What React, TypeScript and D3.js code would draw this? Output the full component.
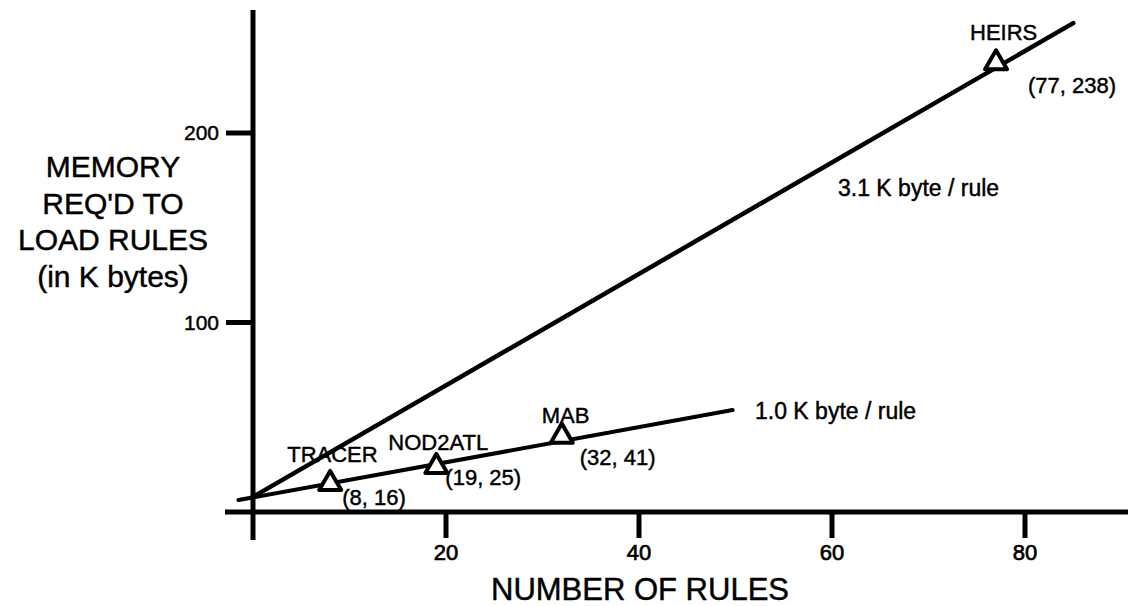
import React from "react";
import * as d3 from "d3";

// ---- data ----
const systems = ["TRACER", "NOD2ATL", "MAB", "HEIRS"];
const rules = [8, 19, 32, 77];
const memoryK = [16, 25, 41, 238];
const xTicks = [20, 40, 60, 80];
const yTicks = [100, 200];
const fitLabels = ["3.1 K byte / rule", "1.0 K byte / rule"];
// hand-drawn fit lines (rules, K bytes)
const fitHigh: [number, number][] = [[0, 8], [85, 258]];
const fitLow: [number, number][] = [[-1.5, 6.3], [49.7, 53.8]];
const yTitle = ["MEMORY", "REQ'D TO", "LOAD RULES", "(in K bytes)"];
const xTitle = "NUMBER OF RULES";

// ---- layout ----
const W = 1128;
const H = 606;
const FONT = "'Liberation Sans', Arial, Helvetica, sans-serif";
const nameOffsets = [[-43, -20], [-48, -15], [-20, -11], [-26, -21]];
const coordOffsets = [[12, 23], [9, 20], [18, 31], [32, 32]];
const TS = { fill: "#000", stroke: "#000", strokeWidth: 0.45 };

export default function App() {
  const x = d3.scaleLinear().domain([0, 80]).range([253, 1025]);
  const y = d3.scaleLinear().domain([0, 200]).range([512, 133]);
  const line = d3.line<[number, number]>().x((d) => x(d[0])).y((d) => y(d[1]));
  const tri = d3.symbol().type(d3.symbolTriangle).size(210)();

  const x0 = x(0);
  const y0 = y(0);

  return (
    <svg
      width={W}
      height={H}
      style={{ position: "absolute", left: 0, top: 0, background: "#fff" }}
      fontFamily={FONT}
    >
      <rect width={W} height={H} fill="#fff" />
      {/* axes */}
      <line x1={x0} x2={x0} y1={10} y2={540} stroke="#000" strokeWidth={5} />
      <line x1={225} x2={W} y1={y0} y2={y0} stroke="#000" strokeWidth={5} />
      {yTicks.map((t) => (
        <g key={"yt" + t}>
          <line x1={226} x2={x0} y1={y(t)} y2={y(t)} stroke="#000" strokeWidth={5} />
          <text x={219} y={y(t) + 7} textAnchor="end" fontSize={21} {...TS}>
            {t}
          </text>
        </g>
      ))}
      {xTicks.map((t) => (
        <g key={"xt" + t}>
          <line x1={x(t)} x2={x(t)} y1={y0} y2={538} stroke="#000" strokeWidth={5} />
          <text x={x(t)} y={560} textAnchor="middle" fontSize={22} {...TS} strokeWidth={0.7}>
            {t}
          </text>
        </g>
      ))}
      {/* axis titles */}
      <text x={640} y={600} textAnchor="middle" fontSize={31} {...TS}>
        {xTitle}
      </text>
      {yTitle.map((s, i) => (
        <text key={s} x={113} y={177 + i * 36.7} textAnchor="middle" fontSize={30} {...TS}>
          {s}
        </text>
      ))}
      {/* fit lines */}
      <path d={line(fitHigh) || ""} fill="none" stroke="#000" strokeWidth={4.5} strokeLinecap="round" />
      <path d={line(fitLow) || ""} fill="none" stroke="#000" strokeWidth={4} strokeLinecap="round" />
      <text x={838} y={196} fontSize={23} {...TS}>
        {fitLabels[0]}
      </text>
      <text x={755} y={419} fontSize={23} {...TS}>
        {fitLabels[1]}
      </text>
      {/* points */}
      {systems.map((s, i) => {
        const px = x(rules[i]);
        const py = y(memoryK[i]);
        return (
          <g key={s}>
            <path
              d={tri || ""}
              transform={`translate(${px},${py + 2})`}
              fill="#fff"
              stroke="#000"
              strokeWidth={4}
              strokeLinejoin="round"
            />
            <text x={px + nameOffsets[i][0]} y={py + nameOffsets[i][1]} fontSize={22} {...TS}>
              {s}
            </text>
            <text x={px + coordOffsets[i][0]} y={py + coordOffsets[i][1]} fontSize={22} {...TS}>
              {`(${rules[i]}, ${memoryK[i]})`}
            </text>
          </g>
        );
      })}
    </svg>
  );
}
